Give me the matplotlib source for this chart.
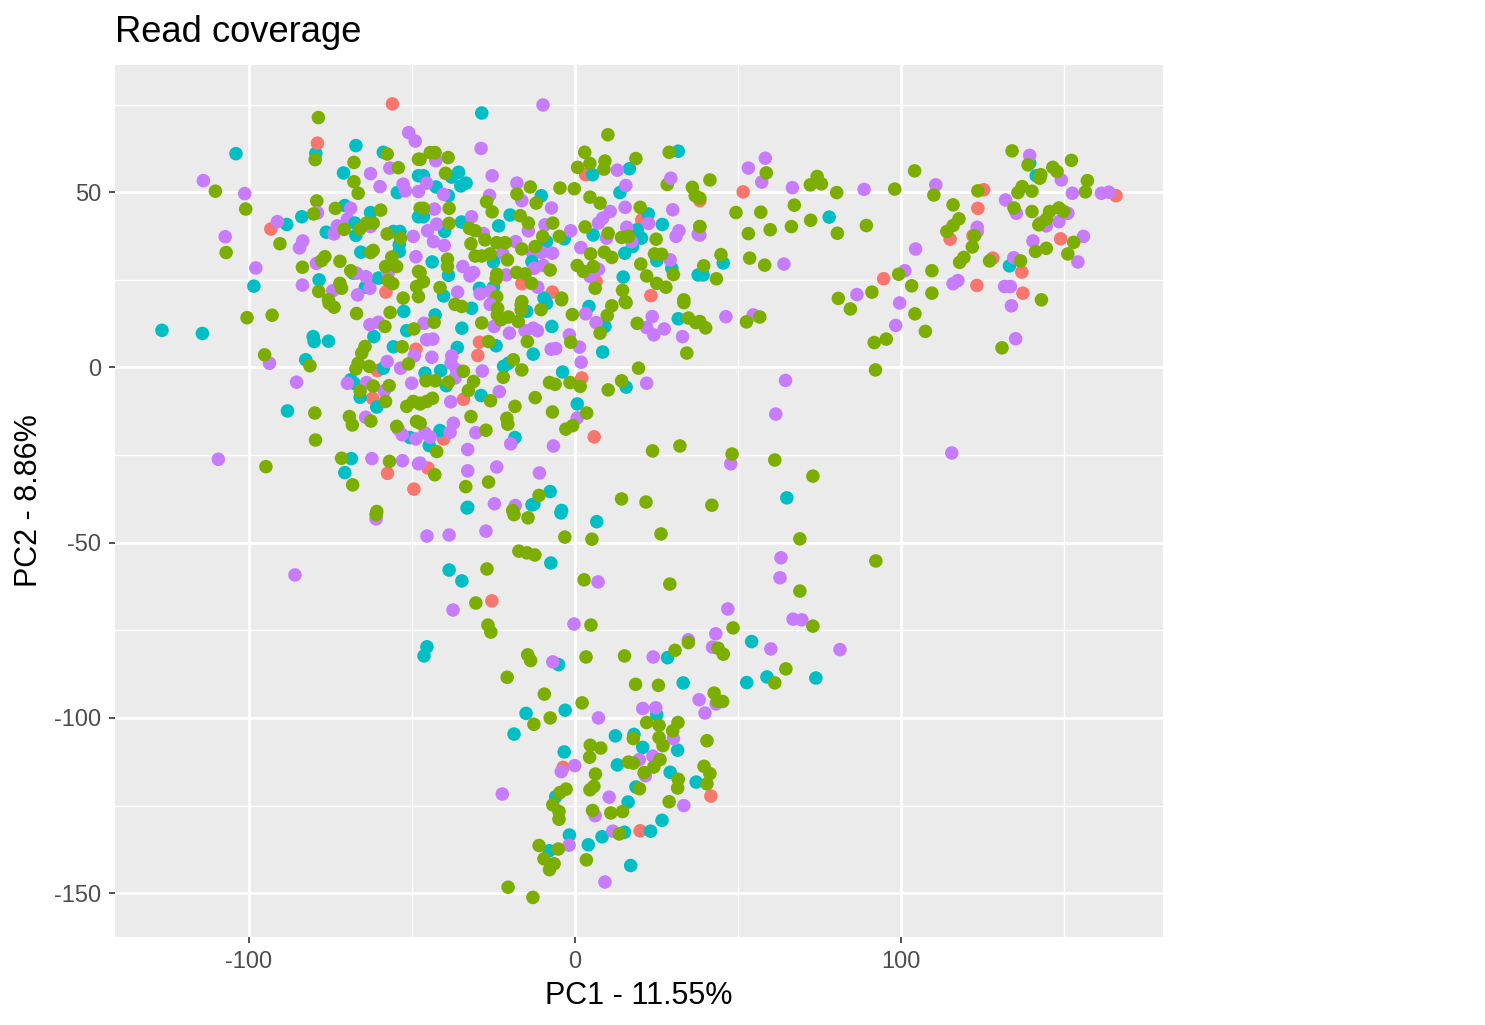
import matplotlib
matplotlib.use('Agg')
import matplotlib.pyplot as plt

plt.rcParams['font.family'] = ['Liberation Sans', 'DejaVu Sans']

# values, (PC1, PC2) per group
red = [(-56.0,75.2),(-79,64),(-93.3,39.5),(-63.3,24.6),(-58,21.5),
    (3.3,55),(-16.3,23.9),(-6.9,21.5),(6.5,24.5),(23.3,20.5),(20.5,42.1),
    (51.6,50.1),(38.3,47.6),(125.4,50.7),(123.6,45.4),(122.1,37.6),(115.1,36.6),(128.2,31.2),(137.1,27.2),(123.3,23.4),(137.4,21.2),(149,36.7),(94.7,25.3),(166,49),
    (-60.6,-0.9),(-62.1,-8.8),(-48.8,5.2),(-57.5,-30.2),(-49.4,-34.7),
    (-29.3,7.2),(-29.8,3.4),(-34.2,-9.1),(2.1,-3),(-40.3,-20.4),(5.9,-19.8),(-45.1,-28.7),
    (-25.5,-66.6),(-3.6,-114.1),(41.7,-122.3),(20,-132.2)]

teal = [(-104,61),(-79.5,61.1),(-67.2,63.3),(-58.8,61.4),(-71,55.5),(-54.5,49.9),(-83.8,43),(-88.4,40.8),(-70.6,46.2),(-62.7,44.2),(-76.3,38.6),(-67.5,41.2),(-67.2,37.7),(-55.7,38.8),(-53.7,38.8),(-53.9,35),(-53.9,33.1),(-65.7,32.9),(-98.5,23.2),(-78.5,25),(-68,26.9),(-60.3,25.5),(-64.3,22.9),(-48,54.7),(-48,43),
    (-28.6,72.6),(-46.5,54.7),(-35.7,55.7),(-37.8,54.3),(-33.4,52.6),(-35,51.8),(-42.6,51.5),(-38.8,49),(-46.5,43),(-34.8,41.5),(-40,38.8),(-23.4,40.4),(-19.9,43.5),(-10.3,49),(-8.7,35.9),(-3.3,36.7),(5.4,55),(16.7,56.7),(13.8,49.9),(31.7,61.7),(22.5,43.8),(26.8,40.8),(19.1,39.3),(20.4,36.9),(17.7,34.5),(15.3,32.6),(5.6,37.8),(-43.8,30.1),(-25,30.1),(-13.2,30.2),(-38.8,26.3),(25.1,30.5),(29.7,28.3),(14.8,25.8),(-29.3,22.6),(-25,22.9),(-40.3,20.4),(-9.5,19.8),(37.8,26.4),
    (78,42.9),(45.5,29.8),(39.3,26.4),(133.3,29),(139.5,58.3),(141.5,54.7),
    (-126.7,10.6),(-114.3,9.7),(-80.3,8.8),(-80,7.4),(-75.6,7.5),(-82.6,2.2),(-68.8,-3.5),(-67.8,-4.5),(-52.5,16),(-61.7,8.8),(-51.6,10.5),(-55.7,5.9),(-58.8,-0.2),(-65.9,-8.5),(-60.8,-11.3),(-88.2,-12.4),(-68.6,-26),(-70.6,-30),(-50.6,-20),
    (-31.7,16.9),(-42.9,15),(-34.7,11.2),(-36.1,5.7),(-14.8,16),(-8.7,18.3),(-7.1,11.7),(-24.2,6.2),(-12.8,3.8),(8.5,4.4),(4.3,17.4),(9.2,11.7),(31.7,13.9),(-20.4,1.2),(-21.9,0.3),(-41.2,-0.9),(-46,-1.6),(-3.8,-1.3),(-39.5,-5.2),(-28.8,-8),(15.7,-5.6),(0.7,-10.4),(-41.4,-18),(-18.4,-20),(-44.7,-22.3),(-7.6,-35.4),(-12.6,-39),(-32.9,-39.9),(-4.1,-40.8),
    (65,-37.2),(6.7,-44),(-33.1,-40.1),(-13.2,-39.2),(-4.3,-41.5),(-7.4,-55.8),(-38.6,-57.8),(-34.7,-60.9),(-45.4,-79.7),(-46.3,-82.3),
    (-5,-84.8),(28.4,-82.8),(33.2,-90),(52.7,-89.9),(54.2,-78.2),(-15,-98.7),(-3,-97.8),(25.1,-99.1),(-18.7,-104.6),(12.4,-105.1),(18.1,-104.7),(20.8,-108.4),(31.5,-109.2),(-3.3,-109.7),(13,-113.4),(29.2,-115.5),(37.2,-118.3),(18.7,-119.7),(-5.9,-122.5),(16.3,-124),(26.7,-129.2),(23.2,-132.3),(15.2,-132.6),(8.3,-133.9),(-1.7,-133.4),(4.1,-136.2),(-7.9,-137.9),(17.1,-142.1),
    (58.9,-88.3),(73.9,-88.6)]

green = [(-78.7,71.3),(-79.7,59.3),(-67.8,58.5),(-57.6,60.9),(-48,59.4),(-54.2,57),(-67.8,53),(-66.5,49.7),(-110.3,50.3),(-101,45.2),(-79.2,47.5),(-73.5,45.4),(-59.6,44.9),(-80.2,43.8),(-47.5,45.4),(-70.8,39.4),(-66,39.5),(-63.9,41.2),(-61.9,41.2),(-57.6,38.1),(-53.5,36.9),(-90.5,35.3),(-107,32.8),(-76.7,31.6),(-77.7,30.5),(-72.1,30.3),(-61.9,33.4),(-62.7,32.8),(-56.2,31.5),(-58.1,28.8),(-54.7,28.8),(-83.6,28.6),(-68.8,27.6),(-48,27.4),(-72.1,24),(-71.6,22.6),(-57.3,24.8),(-55.9,23.9),(-78.6,21.7),(-75.6,19.3),(-52.7,19.8),(-48.6,23.1),(-48,20.2),
    (10.1,66.4),(3,61.4),(-44.4,61.3),(-42.9,61.3),(-38.9,59.9),(-47.5,59.4),(-39.7,55.4),(9.2,58.9),(4.6,58.2),(0.8,57.1),(8.9,56.6),(18.7,59.6),(28.9,61.4),(28.3,52.2),(-13.7,51.5),(-4.6,51.2),(-0.2,51),(-17.8,49.5),(-27.1,47.3),(-25.4,44.4),(-11.9,46.9),(4.6,48.6),(7.7,46.9),(36,51.4),(36.9,49),(-46.5,45.4),(-38.6,45.4),(20,45.7),(-38.6,41.1),(-16.8,43.3),(-14.3,41.2),(-6.8,41.2),(-32.4,39.7),(-30.6,39),(3.1,40.1),(-9.9,37.4),(-4.8,37.4),(10.2,38.3),(14.3,37.1),(16.4,37.4),(24.9,36.6),(38.3,40.2),(-27.6,36.4),(-24,35.6),(-21.4,35.6),(-31.9,35.3),(-16.3,33.8),(-12.2,34.5),(4.8,32.4),(9,32.9),(11.3,31.4),(-30.6,31.8),(-28.6,31.8),(-26,32.4),(-20.7,30.7),(-39.1,30.9),(-39.1,28.8),(24.4,32.4),(26.6,32.3),(20.2,29.5),(0.7,29.1),(2.6,27.4),(5.6,28.8),(-7.6,27.8),(-24,26.6),(-24.2,25.3),(-17.9,27.1),(-15.3,26.7),(22,26.1),(30.2,26.5),(25.1,24),(27.9,22.9),(-47.5,27.1),(-46.5,24.5),(-41.4,22.8),(-13.3,24),(6.2,22.6),(14.6,22),(-4.1,19.8),(33.4,19.3),(-24,20.2),(-16.3,18.8),(15.4,18.8),
    (41.4,53.5),(38.3,48.3),(49.4,44.2),(57,44.3),(58.7,55.5),(67.3,46.3),(74.3,54.5),(72.2,52.1),(75.6,52.4),(80.3,49.9),(98.1,50.9),(104.2,56.1),(110.1,49.2),(116,46.4),(123.6,50.4),(134.1,61.8),(139,57.8),(152.3,59.1),(146.6,57.1),(147.9,55.9),(142.9,55),(142.6,54),(157.2,53.3),(156.6,50.1),(137.2,51.6),(135.9,49.9),(140.2,50.3),(134.7,45.5),(140.2,44.5),(145.6,44.5),(148.5,45.5),(149.9,44.5),(144.6,42.3),(142.3,40.7),(38.3,40.2),(53.2,38.2),(59.9,39.3),(66.4,40.2),(72.3,42),(80.5,38.3),(89.4,40.5),(117.8,42.4),(116,40.5),(114.1,38.8),(122.6,37.6),(121.9,34.4),(119.3,31.4),(118,30),(127.2,30.4),(136.7,30.4),(141.3,33.1),(144.6,34),(153,35.7),(151.2,32.4),(44.8,32.2),(53.6,31.2),(58.2,29.2),(39.5,29),(43.4,25.3),(109.5,27.6),(99.3,26.6),(103.3,23.3),(109.5,21.2),(91.1,21.5),(80.8,19.7),(84.5,16.7),(104.3,15.3),(107.5,10.3),(95.5,8.1),(91.8,7.1),(92.2,-0.7),(143.1,19.3),(131,5.6),(56.7,14.4),(52.6,13),(40.1,11.3),(38.3,13.1),
    (-100.6,14.2),(-92.9,14.9),(-75.4,18.3),(-73.9,17.2),(-67,15.4),(-56.7,15.7),(-58.3,11.7),(-49.4,11),(-64.4,6),(-65.4,4.1),(-53,5.9),(-95.2,3.6),(-66.5,1.2),(-67.2,-0.4),(-63.1,0.3),(-51.1,1),(-81.3,0.5),(-65.9,-6.7),(-61.9,-5.3),(-57,-5.2),(-58.1,-9.7),(-51.6,-11.1),(-49.6,-9.7),(-47.6,-10.2),(-79.8,-13),(-69.2,-14),(-68.3,-16.4),(-62.6,-15.3),(-54.7,-16.8),(-48.6,-15.4),(-79.6,-20.7),(-71.6,-25.9),(-56.9,-26.8),(-94.8,-28.3),(-68.2,-33.5),(-60.8,-41.1),
    (-36.8,18),(-34.7,17.4),(-23.7,16.9),(-16.5,17.9),(-16.5,16.4),(-4.1,19.3),(-10.4,16.5),(-23.8,15),(-20.4,14.4),(-17.4,13.1),(-22.7,13.6),(-28.6,12.7),(-43.2,12.9),(-0.8,15.1),(11.3,17.6),(9.9,14.8),(15.7,18.5),(19.1,12.6),(7.7,9.8),(33.4,18.5),(34.8,14.1),(37.1,12.8),(-14.6,7.4),(-26.5,7.4),(-1.3,7.2),(-18.9,2.2),(-16.3,-0.7),(-34.2,-1.1),(-22,-2.8),(34.3,4.1),(19.5,-0.2),(-45.7,-3.8),(-42.9,-3.8),(-38.8,-4.2),(-31.1,-4),(-32.7,-6.6),(-7.8,-4.3),(-6.1,-4.8),(-1.5,-4.3),(1.6,-5.4),(14.3,-3.8),(10.2,-6.4),(-43.7,-8.8),(-45.5,-9.7),(-47.5,-10.4),(-12.2,-8.6),(-25.9,-9.5),(-18.4,-11.1),(-6.9,-12.7),(-31.9,-14),(3.6,-13),(-20.9,-14.5),(-20.6,-16.2),(-27.3,-17.9),(-0.7,-16.6),(-2.8,-17.6),(-47.5,-15.9),(-42.4,-24),(-43,-30.6),(-33.5,-34),(-26.5,-32.7),(-11,-36.5),(23.8,-23.8),(32.2,-22.4),(14.3,-37.5),(21.8,-38.4),(-19.1,-40.8),
    (-61,-42),(-27,-57.5),(-30.4,-67.2),(-26.7,-73.5),(-25.8,-75.5),(-17.2,-52.4),(-14.7,-52.9),(-12.3,-53.5),(-3.1,-48.4),(5.2,-49),(-18.7,-42),(-14.4,-42.9),(42,-39.3),(26.4,-47.5),(69,-48.9),(2.8,-60.6),(29.1,-61.8),(69,-63.8),(73,-73.8),(4.9,-73.5),(92.3,-55.2),(73,-31),(48.2,-24.7),(61.3,-26.4),
    (-14.5,-82),(-13.6,-83.6),(-20.8,-88.4),(3.4,-82.6),(15.2,-82.3),(30.7,-80.7),(34.8,-78.5),(43.9,-80.1),(45.5,-81.8),(-9.4,-93.2),(2.2,-95.7),(18.6,-90.4),(25.6,-90.7),(42.7,-92.9),(43.7,-95.3),(45.3,-95.3),(-7.6,-100),(-12.6,-101.8),(22,-101.3),(25.8,-102.1),(31.6,-101.3),(30,-103.7),(17.9,-105.9),(25.8,-105.6),(27,-107.9),(40.5,-106.5),(4.7,-107.8),(7.9,-108.6),(4.5,-111.2),(16.4,-112.6),(17.9,-112.9),(26.1,-111.9),(24.2,-114),(39.6,-113.8),(41.4,-115.9),(21.2,-115.6),(6.3,-116),(31.7,-117.5),(31.5,-120),(40.5,-118.8),(5.8,-119.5),(4.6,-120.5),(19.8,-120.2),(-2.7,-120.3),(-4.6,-121.3),(28.9,-123.9),(-6.8,-124.8),(-4.9,-126.7),(-4.9,-128.9),(5.4,-126.4),(11,-127.1),(14.6,-126.7),(13.6,-133.1),(-11,-136.4),(-5.1,-137.4),(-9.5,-140.2),(-6.4,-141.6),(-7.8,-143.3),(3.5,-140.5),(-20.5,-148.3),(-12.9,-151.2),
    (64.7,-86),(61.3,-90),(48.5,-74.3)]

purple = [(-114,53.3),(-101.3,49.6),(-51,67),(-49,64.6),(-62.7,55.3),(-56.8,56.9),(-59.8,51.6),(-52.7,52.3),(-52,50.4),(-48,50.2),(-68.8,45.4),(-69.8,42.3),(-79,44.1),(-91.3,41.6),(-72.9,40.4),(-73.9,38.1),(-62.7,40.2),(-49.6,37.4),(-107.3,37.3),(-83.5,36.1),(-84.5,34.1),(-97.9,28.4),(-79.3,29.7),(-48.8,31.6),(-67,26.9),(-64.1,25.9),(-57.3,26.9),(-62.9,22.6),(-83.6,23.5),(-74.3,21.9),(-66.7,20.7),
    (-9.8,74.9),(-28.8,62.5),(-42.7,59),(-25.4,54.7),(-17.8,52.6),(-26.2,49.1),(-16.3,47.6),(-40.3,49.4),(-45.5,52.6),(-7.2,45.5),(-43.1,45.2),(-31.7,43),(-42.4,40.9),(-45.2,39),(-28.1,38.2),(-14.3,39),(-9.2,40.7),(-1.3,39),(-43.4,35.9),(-40.1,34.8),(-18.2,35.9),(1.8,34.2),(-22.2,32.6),(-12.9,32.4),(-10.2,32.8),(-6.9,32.6),(10.8,44.5),(8.5,42.6),(7.2,41.2),(15.4,45.7),(30,45),(22.6,41.1),(15.9,40),(31.9,39),(31,37.4),(37.8,38),(17.4,35.9),(29.4,54),(15.6,51.9),(13,56.3),(9.7,36.9),(-34.4,28.8),(-31.1,27.1),(-32.2,26.1),(-12.5,28.3),(-9.7,29.1),(-21.1,26.4),(7.2,28),(4.6,26),(29.2,30.7),(-11.4,22.9),(-36,21.5),(-29.1,21),(-26,21.7),
    (58.4,59.7),(53.2,56.9),(57.3,52.9),(66.7,51.3),(88.7,50.8),(110.7,52.1),(139.5,60.5),(149.2,53.5),(152.6,49.7),(132.1,47.8),(161.5,49.7),(163.8,50),(135.4,44),(151.2,44),(144.6,40.4),(142.7,41.2),(148.5,41.6),(123.4,40),(123.4,38.8),(156,37.4),(140.5,36.1),(104.5,33.8),(38.3,37.8),(134.6,31.3),(154.3,30.1),(64.1,29.5),(101.2,27.6),(117.5,24.8),(116,23.9),(131.8,23.1),(133.6,23.1),(86.5,20.8),(99.6,18.4),(133.9,17.6),(98.4,12),(135.2,8.2),(46.3,14.5),(54.7,15),(64.6,-3.7),
    (-62.9,12.2),(-60.3,12.9),(-93.7,1.2),(-57.6,1.7),(-49.3,3.3),(-53.5,-0.2),(-85.4,-4.2),(-69.8,-4.5),(-63.9,-4.3),(-50.1,-4.5),(-58.5,-6.7),(-64.2,-14.2),(-54.2,-17.6),(-53,-19.2),(-48.8,-20.4),(-109.4,-26.2),(-62.3,-26),(-52.9,-26.6),(-48,-27.5),
    (-26,18),(-46.3,12.6),(-24.8,11.7),(-20.1,9.8),(-15.3,10.5),(-12.8,11.2),(-11.5,10.5),(-45.5,7.9),(-43.6,8.1),(3.3,15.3),(6.5,12.8),(23.7,14.5),(22,11.4),(24.2,9.3),(27.4,11),(33,8.8),(-1.7,9.3),(1.4,5.8),(-7.3,5.2),(-5.9,5.4),(1.9,1.5),(-43.9,2.9),(-37.8,3.3),(-38,1.2),(-36.3,-0.7),(-36.8,-3),(-28.4,-1),(-23.2,-6.9),(-38.1,-9.8),(22,-4.5),(0.7,-14.4),(-37.3,-15.9),(-38.3,-18.5),(-46,-18.7),(-44.4,-19.9),(-30.4,-18.6),(-19.7,-21.8),(-6.6,-22.4),(-32.9,-23.4),(-24,-28.4),(-32.9,-29.5),(-10.9,-30.1),(-24.7,-38.9),(-18.3,-39.4),(-47.5,-27.3),
    (-85.9,-59.2),(-61,-43.2),(-45.4,-48.1),(-38.6,-47.8),(-27.3,-46.7),(-37.4,-69.2),(-0.3,-73.2),(7.1,-61.2),(63.2,-54.3),(62.9,-60),(66.9,-71.8),(69.6,-72),(46.9,-68.9),(47.8,-27.5),(61.6,-13.3),(115.6,-24.4),
    (-6.8,-84),(24,-82.6),(34.8,-77.7),(42.2,-79.8),(38.1,-94.8),(43.3,-96),(39.9,-98.6),(20.8,-97.3),(24.8,-97.1),(7.2,-100),(30.2,-105.9),(19.7,-111.9),(23.9,-110.9),(21.6,-116.5),(-0.1,-113.6),(-4.2,-115.3),(-22.3,-121.7),(10.5,-122.6),(33.4,-125),(6.2,-127.9),(11.6,-132.3),(-1.8,-136.3),(9.2,-146.8),
    (60.1,-80.3),(81.3,-80.5),(43.2,-76)]

groups = [(purple, '#C77CFF'), (teal, '#00BFC4'), (red, '#F8766D'), (green, '#7CAE00')]

# the groups overlap in no fixed order in the original, so take turns
xs, ys, cols = [], [], []
for i in range(max(len(g[0]) for g in groups)):
    for pts, col in groups:
        if i < len(pts):
            xs.append(pts[i][0])
            ys.append(pts[i][1])
            cols.append(col)

fig = plt.figure(figsize=(14.85, 10.25), dpi=100)
ax = fig.add_axes([115/1485, 88/1025, 1048/1485, 872/1025], facecolor='#EBEBEB')

ax.scatter(xs, ys, s=95, c=cols, linewidths=0, zorder=3)

ax.set_xlim(-141.1, 180.4)
ax.set_ylim(-162.5, 86.3)
ax.set_xticks([-100, 0, 100])
ax.set_xticklabels(['-100', '0', '100'])
ax.set_yticks([-150, -100, -50, 0, 50])
ax.set_yticklabels(['-150', '-100', '-50', '0', '50'])
ax.set_xticks([-50, 50, 150], minor=True)
ax.set_yticks([-125, -75, -25, 25, 75], minor=True)
ax.grid(which='major', color='white', linewidth=2.0, zorder=1)
ax.grid(which='minor', color='white', linewidth=1.0, zorder=1)
ax.set_axisbelow(True)
ax.tick_params(which='major', length=4, width=1.2, color='#333333', labelcolor='#4D4D4D', labelsize=17, pad=6)
ax.tick_params(which='minor', length=0)
for s in ax.spines.values():
    s.set_visible(False)

fig.text(639/1485, 1-996/1025, 'PC1 - 11.55%', fontsize=22, ha='center', va='center', color='black')
fig.text(29/1485, 1-501/1025, 'PC2 - 8.86%', fontsize=22, ha='center', va='center', rotation=90, color='black')
fig.text(115/1485, 1-32/1025, 'Read coverage', fontsize=26.2, ha='left', va='center', color='black')

fig.savefig('out.png', dpi=100)
